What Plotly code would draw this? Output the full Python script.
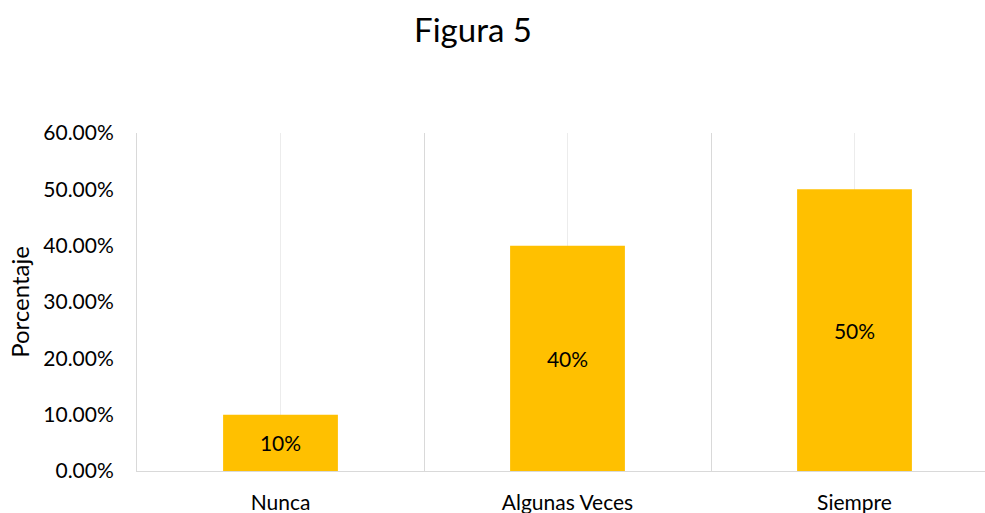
import plotly.graph_objects as go

categories = ["Nunca", "Algunas Veces", "Siempre"]
values = [0.10, 0.40, 0.50]
bar_labels = ["10%", "40%", "50%"]
y_ticks = [0, 0.1, 0.2, 0.3, 0.4, 0.5, 0.6]

xpos = list(range(len(categories)))
FONT = "Lato, 'Open Sans', sans-serif"

fig = go.Figure(go.Bar(
    x=xpos, y=values, width=0.4,
    marker=dict(color="#FFC000", line=dict(width=0)),
    text=bar_labels, textposition="inside", insidetextanchor="middle",
    textfont=dict(size=21, color="#000000", family=FONT),
    textangle=0,
))

fig.update_layout(
    width=985, height=513,
    margin=dict(l=137, r=0, t=133, b=42),
    paper_bgcolor="white", plot_bgcolor="white",
    showlegend=False,
    font=dict(family=FONT, size=21, color="#000000"),
    title=dict(text="Figura 5", x=473/985, xref="container", xanchor="center",
               y=1 - 30/513, yref="container", yanchor="middle",
               font=dict(size=33, color="#000000", family=FONT)),
    uniformtext=dict(mode=False),
)

fig.update_xaxes(
    range=[-0.5, -0.5 + 848/287],
    tickmode="array", tickvals=xpos, ticktext=categories,
    showgrid=True, gridcolor="#ececec", gridwidth=1,
    minor=dict(tickmode="array", tickvals=[-0.5, 0.5, 1.5, 2.5], showgrid=True,
               gridcolor="#d9d9d9", gridwidth=1),
    showline=True, linecolor="#d9d9d9", linewidth=1,
    zeroline=False, ticks="", ticklabelstandoff=13,
    tickfont=dict(size=21, color="#000000"),
    automargin=False, fixedrange=True,
)

fig.update_yaxes(
    range=[0, 0.6],
    tickmode="array", tickvals=y_ticks, tickformat=".2%",
    showgrid=False, zeroline=False,
    showline=True, linecolor="#d9d9d9", linewidth=1,
    ticks="", ticklabelstandoff=18,
    tickfont=dict(size=21, color="#000000"),
    title=dict(text="Porcentaje", font=dict(size=24, color="#000000"), standoff=6),
    automargin=False, fixedrange=True,
)

fig.write_html(
    "out.html",
    config={"displayModeBar": False, "staticPlot": True},
    post_script="document.body.style.margin='0';document.body.style.overflow='hidden';",
)
